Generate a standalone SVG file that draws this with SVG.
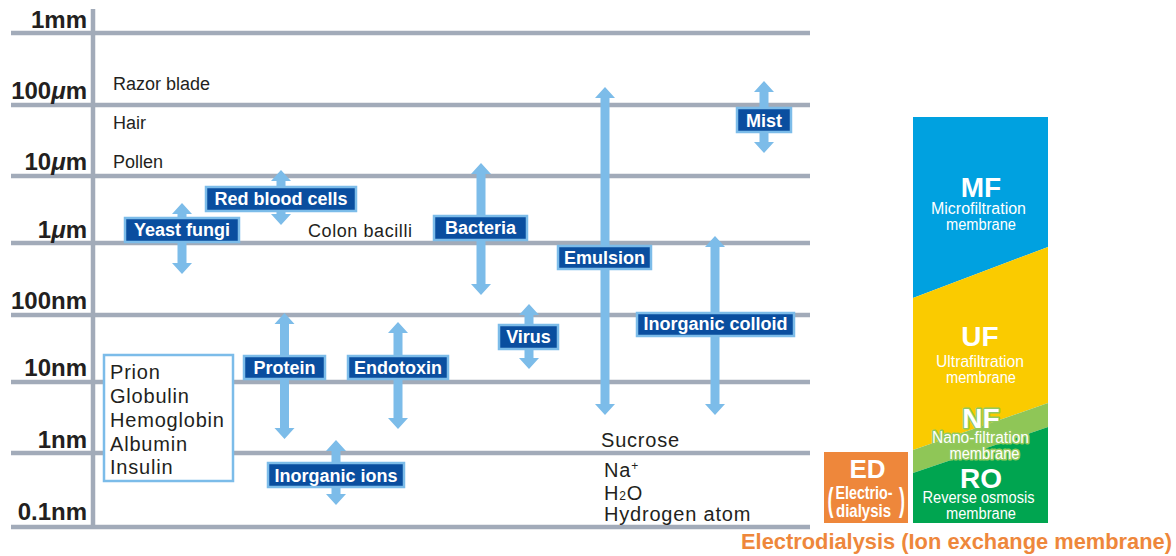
<svg xmlns="http://www.w3.org/2000/svg" width="1176" height="556" viewBox="0 0 1176 556">
<style>
.grid{stroke:#a2abb9;stroke-width:4.5;fill:none}
.arr{fill:#7cbce9}
.lbl rect{fill:#0a4e9f;stroke:#7cbce9;stroke-width:2.5}
.lbl text{font-family:"Liberation Sans",Arial,sans-serif;font-weight:bold;font-size:18px;fill:#fff;text-anchor:middle}
.ax{font-family:"Liberation Sans",Arial,sans-serif;font-weight:bold;font-size:24px;fill:#231f20;text-anchor:end}
.obj{font-family:"Liberation Sans",Arial,sans-serif;font-size:18px;fill:#231f20}
.mol{font-family:"Liberation Sans",Arial,sans-serif;font-size:20px;fill:#231f20;letter-spacing:0.8px}
.big{font-family:"Liberation Sans",Arial,sans-serif;font-weight:bold;font-size:28px;fill:#fff;text-anchor:middle}
.sub{font-family:"Liberation Sans",Arial,sans-serif;font-size:16px;fill:#fff;text-anchor:middle}
.nf{stroke:#93c95c;stroke-width:3;paint-order:stroke;stroke-linejoin:round}
.edt{font-family:"Liberation Sans",Arial,sans-serif;font-weight:bold;fill:#fff;text-anchor:middle}
</style>

<g id="axis">
<line class="grid" x1="93" y1="9" x2="93" y2="529"/>
<line class="grid" x1="11" y1="33" x2="810" y2="33"/>
<line class="grid" x1="11" y1="105" x2="810" y2="105"/>
<line class="grid" x1="11" y1="176" x2="810" y2="176"/>
<line class="grid" x1="11" y1="243" x2="810" y2="243"/>
<line class="grid" x1="11" y1="315" x2="810" y2="315"/>
<line class="grid" x1="11" y1="382" x2="810" y2="382"/>
<line class="grid" x1="11" y1="453" x2="810" y2="453"/>
<line class="grid" x1="11" y1="527" x2="810" y2="527"/>
<text class="ax" x="87" y="28">1mm</text>
<text class="ax" x="87" y="99">100<tspan font-style="italic">μ</tspan>m</text>
<text class="ax" x="87" y="170">10<tspan font-style="italic">μ</tspan>m</text>
<text class="ax" x="87" y="238">1<tspan font-style="italic">μ</tspan>m</text>
<text class="ax" x="87" y="309">100nm</text>
<text class="ax" x="87" y="376">10nm</text>
<text class="ax" x="87" y="448">1nm</text>
<text class="ax" x="87" y="520">0.1nm</text>
</g>

<g id="objects">
<text class="obj" x="113" y="90">Razor blade</text>
<text class="obj" x="113" y="129">Hair</text>
<text class="obj" x="113" y="168">Pollen</text>
<text class="obj" x="308" y="237" textLength="104">Colon bacilli</text>
<text class="mol" x="601" y="447">Sucrose</text>
<text class="mol" x="604" y="477">Na<tspan font-size="12" dy="-7">+</tspan></text>
<text class="mol" x="604" y="500">H<tspan font-size="12">2</tspan>O</text>
<text class="mol" x="604" y="521">Hydrogen atom</text>
</g>

<g id="protein-list">
<rect x="104" y="355" width="129" height="126" fill="#fff" stroke="#7cbce9" stroke-width="2.5"/>
<text class="mol" x="110" y="379" letter-spacing="0.9">Prion</text>
<text class="mol" x="110" y="403" letter-spacing="0.9">Globulin</text>
<text class="mol" x="110" y="427" letter-spacing="0.9">Hemoglobin</text>
<text class="mol" x="110" y="451" letter-spacing="0.9">Albumin</text>
<text class="mol" x="110" y="474" letter-spacing="0.9">Insulin</text>
</g>

<g id="connectors">
<path class="arr" d="M182,203 L192,214 H186.5 V263 H192 L182,274 L172,263 H177.5 V214 H172 Z"/>
<path class="arr" d="M281,170 L291,181 H285.5 V214 H291 L281,225 L271,214 H276.5 V181 H271 Z"/>
<path class="arr" d="M481,163 L491,174 H485.5 V284 H491 L481,295 L471,284 H476.5 V174 H471 Z"/>
<path class="arr" d="M605,87 L615,98 H609.5 V404 H615 L605,415 L595,404 H600.5 V98 H595 Z"/>
<path class="arr" d="M764,81 L774,92 H768.5 V142 H774 L764,153 L754,142 H759.5 V92 H754 Z"/>
<path class="arr" d="M715,236 L725,247 H719.5 V404 H725 L715,415 L705,404 H710.5 V247 H705 Z"/>
<path class="arr" d="M529,304 L539,315 H533.5 V358 H539 L529,369 L519,358 H524.5 V315 H519 Z"/>
<path class="arr" d="M284.5,313 L294.5,324 H289 V428 H294.5 L284.5,439 L274.5,428 H280 V324 H274.5 Z"/>
<path class="arr" d="M398,322 L408,333 H402.5 V418 H408 L398,429 L388,418 H393.5 V333 H388 Z"/>
<path class="arr" d="M336,440 L346,451 H340.5 V494 H346 L336,505 L326,494 H331.5 V451 H326 Z"/>
</g>

<g id="yeast-fungi" class="lbl"><rect x="125" y="218" width="114" height="24"/><text x="182" y="236">Yeast fungi</text></g>
<g id="red-blood-cells" class="lbl"><rect x="206" y="187" width="150" height="24"/><text x="281" y="205">Red blood cells</text></g>
<g id="bacteria" class="lbl"><rect x="434" y="216" width="93" height="24"/><text x="480.5" y="234">Bacteria</text></g>
<g id="emulsion" class="lbl"><rect x="558" y="246" width="93" height="23"/><text x="604.5" y="264">Emulsion</text></g>
<g id="mist" class="lbl"><rect x="737" y="108" width="54" height="24"/><text x="764" y="127">Mist</text></g>
<g id="inorganic-colloid" class="lbl"><rect x="637" y="313" width="157" height="23"/><text x="715.5" y="330">Inorganic colloid</text></g>
<g id="virus" class="lbl"><rect x="499" y="325" width="59" height="24"/><text x="528.5" y="343">Virus</text></g>
<g id="protein" class="lbl"><rect x="244" y="356" width="81" height="23"/><text x="284.5" y="373.5">Protein</text></g>
<g id="endotoxin" class="lbl"><rect x="348" y="356" width="100" height="23"/><text x="398" y="373.5">Endotoxin</text></g>
<g id="inorganic-ions" class="lbl"><rect x="268" y="463" width="136" height="24"/><text x="336" y="482">Inorganic ions</text></g>

<g id="membrane-bar">
<polygon points="913,117 1048,117 1048,247 913,298" fill="#00a1e0"/>
<polygon points="913,298 1048,247 1048,403 913,450" fill="#facb00"/>
<polygon points="913,450 1048,403 1048,427 913,473" fill="#8fc657"/>
<polygon points="913,473 1048,427 1048,523 913,523" fill="#00a550"/>
</g>
<g id="mf">
<text class="big" x="981" y="197">MF</text>
<text class="sub" x="978.5" y="214" textLength="95" lengthAdjust="spacingAndGlyphs">Microfiltration</text>
<text class="sub" x="981" y="230" textLength="70" lengthAdjust="spacingAndGlyphs">membrane</text>
</g>
<g id="uf">
<text class="big" x="980" y="346">UF</text>
<text class="sub" x="980" y="367" textLength="88" lengthAdjust="spacingAndGlyphs">Ultrafiltration</text>
<text class="sub" x="981" y="383" textLength="70" lengthAdjust="spacingAndGlyphs">membrane</text>
</g>
<g id="nf">
<text class="big nf" x="981" y="428">NF</text>
<text class="sub nf" x="980.5" y="443" textLength="97" lengthAdjust="spacingAndGlyphs">Nano-filtration</text>
<text class="sub nf" x="984.5" y="459" textLength="70" lengthAdjust="spacingAndGlyphs">membrane</text>
</g>
<g id="ro">
<text class="big" x="981" y="488">RO</text>
<text class="sub" x="978.5" y="503" textLength="112" lengthAdjust="spacingAndGlyphs">Reverse osmosis</text>
<text class="sub" x="981" y="519" textLength="70" lengthAdjust="spacingAndGlyphs">membrane</text>
</g>

<g id="ed">
<rect x="824" y="452" width="84" height="71" fill="#ee873b"/>
<text class="edt" x="867.5" y="478" font-size="26">ED</text>
<text class="edt" x="864" y="499" font-size="19" textLength="57" lengthAdjust="spacingAndGlyphs">Electrio-</text>
<text class="edt" x="863.5" y="517" font-size="19" textLength="55" lengthAdjust="spacingAndGlyphs">dialysis</text>
<text class="edt" x="830.5" y="511" font-size="34" font-weight="normal" textLength="6" lengthAdjust="spacingAndGlyphs">(</text>
<text class="edt" x="902" y="511" font-size="34" font-weight="normal" textLength="6" lengthAdjust="spacingAndGlyphs">)</text>
</g>

<g id="ed-caption">
<text x="741" y="549" font-family="'Liberation Sans',Arial,sans-serif" font-weight="bold" font-size="22" fill="#ee873b" textLength="431" lengthAdjust="spacingAndGlyphs">Electrodialysis (Ion exchange membrane)</text>
</g>
</svg>
